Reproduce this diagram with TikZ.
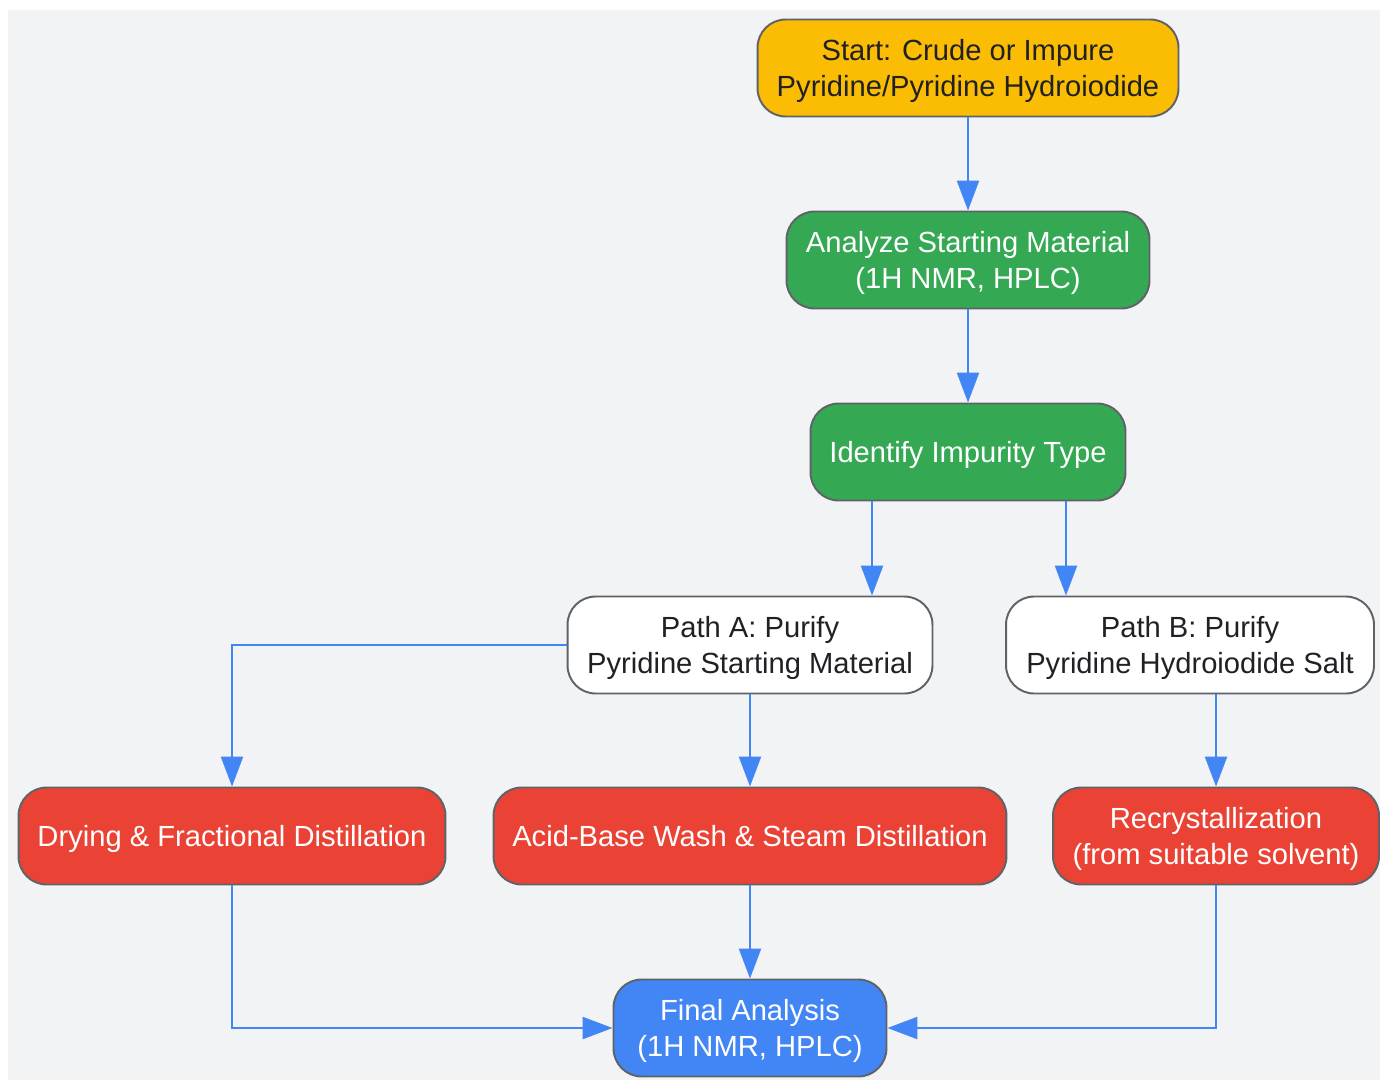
\documentclass[tikz,border=0pt]{standalone}
\usepackage{fontspec}
\setmainfont{Liberation Sans}
\usetikzlibrary{arrows.meta}

\definecolor{bggray}{HTML}{F1F3F4}
\definecolor{edgegray}{HTML}{5F6368}
\definecolor{linkblue}{HTML}{4285F4}
\definecolor{startyellow}{HTML}{FBBC04}
\definecolor{stepgreen}{HTML}{34A853}
\definecolor{stepred}{HTML}{EA4335}
\definecolor{darktext}{HTML}{202124}

\tikzset{
  box/.style={draw=edgegray,line width=1.1pt,rounded corners=16pt,align=center,
    minimum height=1.94cm,inner sep=0pt,text depth=0pt,
    font=\fontsize{16.6}{20.4}\selectfont},
  startbox/.style={box,fill=startyellow,text=darktext},
  greenbox/.style={box,fill=stepgreen,text=white},
  pathbox/.style={box,fill=white,text=darktext},
  redbox/.style={box,fill=stepred,text=white},
  finalbox/.style={box,fill=linkblue,text=white},
  arr/.style={-{Triangle[length=17pt,width=12.5pt]},color=linkblue,line width=1.2pt}
}

\begin{document}
\begin{tikzpicture}[x=0.02cm,y=-0.02cm]
			\useasboundingbox (0,0) rectangle (1380,1080);
			\fill[bggray] (8,10) rectangle (1380,1080);

			\node[startbox,minimum width=8.42cm] (start) at (968,68){Start: Crude or Impure\\Pyridine/Pyridine Hydroiodide};
			\node[greenbox,minimum width=7.26cm] (analyze) at (968,260){Analyze Starting Material\\(1H NMR, HPLC)};
			\node[greenbox,minimum width=6.3cm] (identify) at (968,452){Identify Impurity Type};
			\node[pathbox,minimum width=7.3cm] (pathA) at (750,645){Path A: Purify\\Pyridine Starting Material};
			\node[pathbox,minimum width=7.36cm] (pathB) at (1190,645){Path B: Purify\\Pyridine Hydroiodide Salt};
			\node[redbox,minimum width=8.54cm] (drying) at (232,836){Drying \& Fractional Distillation};
			\node[redbox,minimum width=10.26cm] (acidbase) at (750,836){Acid-Base Wash \& Steam Distillation};
			\node[redbox,minimum width=6.52cm] (recryst) at (1216,836){Recrystallization\\(from suitable solvent)};
			\node[finalbox,minimum width=5.46cm] (final) at (750,1028){Final Analysis\\(1H NMR, HPLC)};

			\draw[arr] (start) -- (analyze);
			\draw[arr] (analyze) -- (identify);
			\draw[arr] ([xshift=-1.92cm]identify.south) coordinate (ia) -- (ia |- pathA.north);
			\draw[arr] ([xshift=1.96cm]identify.south) coordinate (ib) -- (ib |- pathB.north);
			\draw[arr] (pathA.west) -| (drying.north);
			\draw[arr] (pathA) -- (acidbase);
			\draw[arr] (pathB.south -| recryst.north) -- (recryst.north);
			\draw[arr] (drying.south) |- (final.west);
			\draw[arr] (acidbase) -- (final);
			\draw[arr] (recryst.south) |- (final.east);
		\end{tikzpicture}
\end{document}
